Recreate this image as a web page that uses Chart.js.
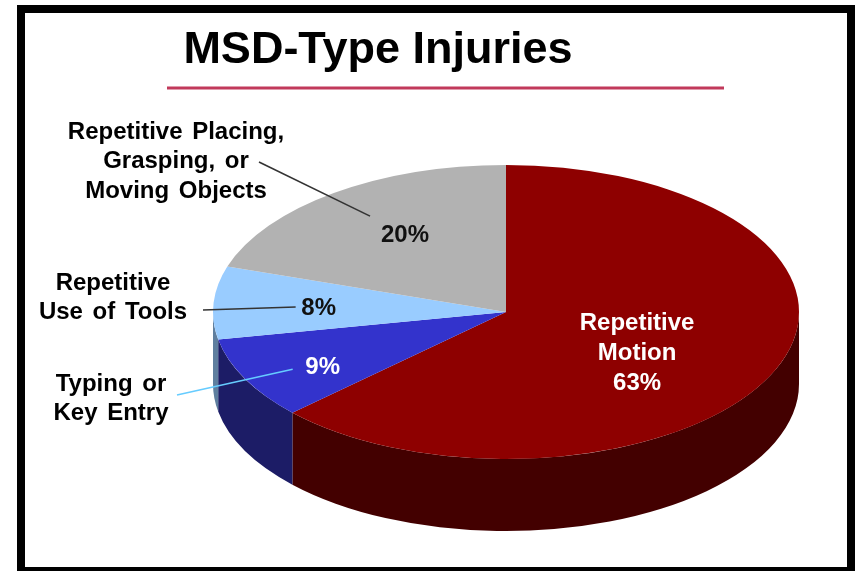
<!DOCTYPE html>
<html><head><meta charset="utf-8">
<script src="https://cdn.jsdelivr.net/npm/chart.js@4.4.1/dist/chart.umd.min.js"></script>
<style>html,body{margin:0;padding:0;background:#fff;overflow:hidden}canvas{display:block}</style>
</head><body>
<canvas id="c" width="857" height="571"></canvas>
<script>
// ---- data ----
const chartTitle = 'MSD-Type Injuries';
const categories = ['Repetitive Motion', 'Typing or Key Entry', 'Repetitive Use of Tools', 'Repetitive Placing, Grasping, or Moving Objects'];
const values = [63, 9, 8, 20];
const insideNames = [['Repetitive', 'Motion'], [], [], []];
const calloutNames = [[], ['Typing or', 'Key Entry'], ['Repetitive', 'Use of Tools'], ['Repetitive Placing,', 'Grasping, or', 'Moving Objects']];

// ---- style ----
const topColors = ['#8E0000', '#3333CC', '#99CCFF', '#B2B2B2'];
const sideColors = ['#430000', '#1C1C66', '#5F7F9F', '#707070'];
const pctColors = ['#FFFFFF', '#FFFFFF', '#111111', '#111111'];
const P = { cx: 506, cy: 312, r: 293, k: 0.502, depth: 72 };
const labelGeom = [{ f: 0.53, da: 9 }, { f: 0.73, da: -4 }, { f: 0.64, da: -1.2 }, { f: 0.626, da: 2.6 }];
const callouts = [null,
  { x: 111, y: 384, lx: 177, ly: 395, dx: -30, dy: 2, color: '#66CCFF' },
  { x: 113, y: 283, lx: 203, ly: 310, dx: -23, dy: -1, color: '#333333' },
  { x: 176, y: 132, lx: 259, ly: 162, dx: -35, dy: -19, color: '#333333' }];
const FONT = "'Liberation Sans', Arial, sans-serif";

function labelPos(arc, i) {
  const mid = (arc.startAngle + arc.endAngle) / 2 + labelGeom[i].da * Math.PI / 180;
  const rr = labelGeom[i].f * P.r;
  return { x: P.cx + rr * Math.cos(mid), y: P.cy + P.k * rr * Math.sin(mid) };
}

const pie3d = {
  id: 'pie3d',
  beforeDraw(chart) {
    const ctx = chart.ctx;
    ctx.save();
    ctx.fillStyle = '#fff';
    ctx.fillRect(0, 0, chart.width, chart.height);
    ctx.fillStyle = '#000';
    ctx.fillRect(17, 5, 838, 8);
    ctx.fillRect(17, 5, 8, 571);
    ctx.fillRect(847, 5, 8, 571);
    ctx.fillRect(17, 567, 838, 8);
    ctx.restore();
  },
  beforeDatasetsDraw(chart) {
    const ctx = chart.ctx;
    const meta = chart.getDatasetMeta(0);
    ctx.save();
    meta.data.forEach((arc, i) => {
      const s = arc.startAngle, e = arc.endAngle, R = arc.outerRadius;
      for (const off of [-2 * Math.PI, 0, 2 * Math.PI]) {
        const a = Math.max(s + off, 0), b = Math.min(e + off, Math.PI);
        if (b > a) {
          ctx.beginPath();
          ctx.ellipse(P.cx, P.cy, R, R * P.k, 0, a, b, false);
          ctx.ellipse(P.cx, P.cy + P.depth, R, R * P.k, 0, b, a, true);
          ctx.closePath();
          ctx.fillStyle = sideColors[i];
          ctx.fill();
        }
      }
    });
    ctx.restore();
    ctx.save();
    const el = meta.data[0];
    ctx.translate(P.cx, P.cy);
    ctx.scale(1, P.k);
    ctx.translate(-el.x, -el.y);
  },
  afterDatasetsDraw(chart) {
    chart.ctx.restore();
  },
  afterDraw(chart) {
    const ctx = chart.ctx;
    const meta = chart.getDatasetMeta(0);
    ctx.save();
    // title underline
    ctx.strokeStyle = '#C1395B';
    ctx.lineWidth = 3;
    ctx.beginPath(); ctx.moveTo(167, 88); ctx.lineTo(724, 88); ctx.stroke();

    ctx.textAlign = 'center';
    ctx.textBaseline = 'middle';
    meta.data.forEach((arc, i) => {
      const p = labelPos(arc, i);
      const pct = values[i] + '%';
      const c = callouts[i];
      if (c) {
        ctx.strokeStyle = c.color;
        ctx.lineWidth = 1.6;
        ctx.beginPath(); ctx.moveTo(c.lx, c.ly); ctx.lineTo(p.x + c.dx, p.y + c.dy); ctx.stroke();
        ctx.fillStyle = '#000';
        ctx.font = 'bold 24px ' + FONT;
        try { ctx.wordSpacing = '3px'; } catch (err) {}
        calloutNames[i].forEach((t, j) => ctx.fillText(t, c.x, c.y + j * 29.5));
        try { ctx.wordSpacing = '0px'; } catch (err) {}
      }
      ctx.fillStyle = pctColors[i];
      ctx.font = 'bold 24px ' + FONT;
      const lines = insideNames[i].concat([pct]);
      const y0 = p.y - (lines.length - 1) * 30 / 2;
      lines.forEach((t, j) => ctx.fillText(t, p.x, y0 + j * 30));
    });
    ctx.restore();
  }
};

new Chart(document.getElementById('c'), {
  type: 'pie',
  data: {
    labels: categories,
    datasets: [{
      data: values,
      backgroundColor: topColors,
      borderWidth: 0,
      radius: P.r,
      clip: false
    }]
  },
  options: {
    responsive: false,
    animation: false,
    events: [],
    layout: { padding: { left: 0, right: 101, top: 0, bottom: 0 } },
    plugins: {
      legend: { display: false },
      tooltip: { enabled: false },
      title: {
        display: true,
        text: chartTitle,
        color: '#000',
        font: { family: FONT, size: 45, weight: 'bold' },
        padding: { top: 24, bottom: 0 }
      }
    }
  },
  plugins: [pie3d]
});
</script>
</body></html>
